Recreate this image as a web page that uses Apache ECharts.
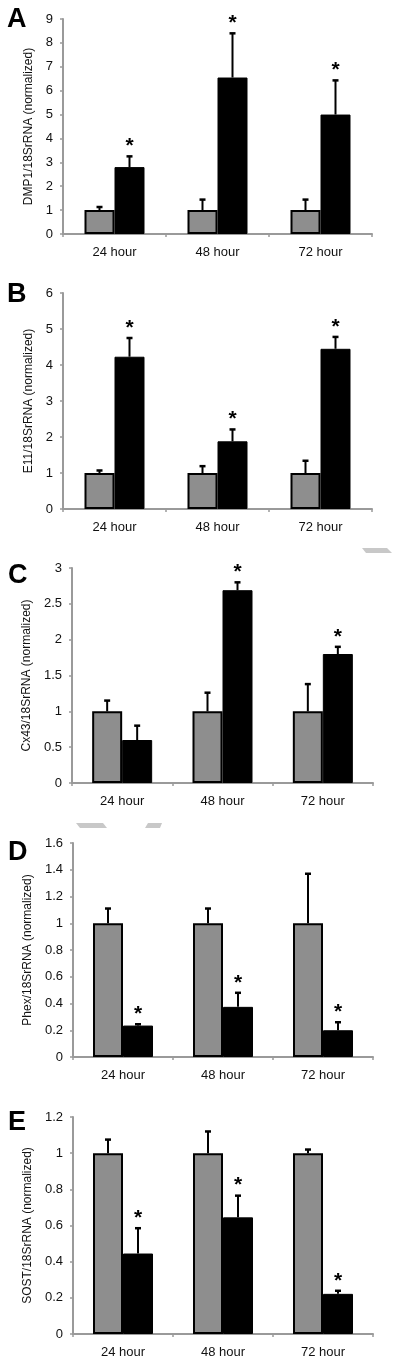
<!DOCTYPE html>
<html><head><meta charset="utf-8">
<script src="https://cdn.jsdelivr.net/npm/echarts@6/dist/echarts.min.js"></script>
<style>html,body{margin:0;padding:0;background:#fff}#c{width:400px;height:1363px}</style>
</head><body><div id="c"></div>
<script>
// ---------- data ----------
const categories = ['24 hour', '48 hour', '72 hour'];
const panelLetters = ['A', 'B', 'C', 'D', 'E'];
const yNames = [
  'DMP1/18SrRNA (normalized)',
  'E11/18SrRNA (normalized)',
  'Cx43/18SrRNA (normalized)',
  'Phex/18SrRNA (normalized)',
  'SOST/18SrRNA (normalized)'
];
const yMax = [9, 6, 3, 1.6, 1.2];
const yInterval = [1, 1, 0.5, 0.2, 0.2];

// A: DMP1
const dmp1Control = [1, 1, 1];
const dmp1ControlSD = [0.13, 0.44, 0.44];
const dmp1Treated = [2.8, 6.55, 5.0];
const dmp1TreatedSD = [0.45, 1.85, 1.43];
const dmp1Star = [1, 1, 1];
// B: E11
const e11Control = [1, 1, 1];
const e11ControlSD = [0.07, 0.19, 0.34];
const e11Treated = [4.23, 1.88, 4.45];
const e11TreatedSD = [0.52, 0.33, 0.33];
const e11Star = [1, 1, 1];
// C: Cx43
const cx43Control = [1, 1, 1];
const cx43ControlSD = [0.15, 0.26, 0.38];
const cx43Treated = [0.6, 2.69, 1.8];
const cx43TreatedSD = [0.2, 0.11, 0.1];
const cx43Star = [0, 1, 1];
// D: Phex
const phexControl = [1, 1, 1];
const phexControlSD = [0.11, 0.11, 0.37];
const phexTreated = [0.235, 0.375, 0.2];
const phexTreatedSD = [0.01, 0.105, 0.06];
const phexStar = [1, 1, 1];
// E: SOST
const sostControl = [1, 1, 1];
const sostControlSD = [0.075, 0.12, 0.02];
const sostTreated = [0.445, 0.645, 0.222];
const sostTreatedSD = [0.14, 0.12, 0.017];
const sostStar = [1, 1, 1];

const panels = [
  [dmp1Control, dmp1ControlSD, dmp1Treated, dmp1TreatedSD, dmp1Star],
  [e11Control, e11ControlSD, e11Treated, e11TreatedSD, e11Star],
  [cx43Control, cx43ControlSD, cx43Treated, cx43TreatedSD, cx43Star],
  [phexControl, phexControlSD, phexTreated, phexTreatedSD, phexStar],
  [sostControl, sostControlSD, sostTreated, sostTreatedSD, sostStar]
];

// ---------- layout / style ----------
const grids = [
  {left: 63, top: 19, width: 309, height: 215},
  {left: 63, top: 293, width: 309, height: 216},
  {left: 72, top: 568, width: 301, height: 215},
  {left: 73, top: 843, width: 300, height: 214},
  {left: 73, top: 1117, width: 300, height: 217}
];
const nameGaps = [26, 27, 30, 31, 31];
const letterPos = [[7, 19], [7, 294], [8, 575], [8, 852], [8, 1122]];
const FONT = '"Liberation Sans", Arial, sans-serif';
const GRAY = '#8e8e8e';
const AXIS = '#9a9a9a';
const BAR_W = 30;
const HALF = BAR_W / 2;

function renderErr(params, api) {
  const cat = api.value(0), mean = api.value(1), sd = api.value(2), side = api.value(3), star = api.value(4);
  const base = api.coord([cat, mean]);
  const top = api.coord([cat, mean + sd]);
  const x = base[0] + (side === 0 ? -HALF : HALF);
  const children = [
    {type: 'line', shape: {x1: x, y1: base[1], x2: x, y2: top[1]}, style: {stroke: '#000', lineWidth: 2}},
    {type: 'line', shape: {x1: x - 3, y1: top[1], x2: x + 3, y2: top[1]}, style: {stroke: '#000', lineWidth: 2.5}}
  ];
  if (star) {
    children.push({type: 'text', x: x, y: top[1] - 10,
      style: {text: '*', font: 'bold 21px ' + FONT, textAlign: 'center', textVerticalAlign: 'middle', fill: '#000'}});
  }
  return {type: 'group', children: children};
}

const option = {
  animation: false,
  backgroundColor: '#fff',
  grid: grids.map(g => Object.assign({containLabel: false}, g)),
  xAxis: grids.map((g, i) => ({
    type: 'category', gridIndex: i, data: categories,
    axisLine: {lineStyle: {color: AXIS, width: 2}},
    axisTick: {show: true, alignWithLabel: false, length: 3, lineStyle: {color: AXIS, width: 1.5}},
    axisLabel: {color: '#111', fontSize: 13, fontFamily: FONT, margin: 12}
  })),
  yAxis: grids.map((g, i) => ({
    type: 'value', gridIndex: i, min: 0, max: yMax[i], interval: yInterval[i],
    name: yNames[i], nameLocation: 'middle', nameGap: nameGaps[i], nameRotate: 90,
    nameTextStyle: {color: '#111', fontSize: 12, fontFamily: FONT},
    axisLine: {show: true, lineStyle: {color: AXIS, width: 2}},
    axisTick: {show: true, length: 3, lineStyle: {color: AXIS, width: 1.5}},
    splitLine: {show: false},
    axisLabel: {color: '#111', fontSize: 13, fontFamily: FONT, margin: 10}
  })),
  series: [],
  graphic: []
};

panels.forEach((p, i) => {
  const [ctrl, ctrlSD, trt, trtSD, star] = p;
  option.series.push({
    type: 'bar', xAxisIndex: i, yAxisIndex: i, data: ctrl, barWidth: BAR_W, barGap: '0%',
    itemStyle: {color: GRAY, borderColor: '#000', borderWidth: 2}
  });
  option.series.push({
    type: 'bar', xAxisIndex: i, yAxisIndex: i, data: trt, barWidth: BAR_W, barGap: '0%',
    itemStyle: {color: '#000', borderColor: '#000', borderWidth: 1}
  });
  const errData = [];
  ctrl.forEach((v, k) => errData.push([k, v, ctrlSD[k], 0, 0]));
  trt.forEach((v, k) => errData.push([k, v, trtSD[k], 1, star[k]]));
  option.series.push({
    type: 'custom', xAxisIndex: i, yAxisIndex: i, data: errData, renderItem: renderErr,
    encode: {x: 0, y: 1}, z: 5, clip: false
  });
  option.graphic.push({
    type: 'text', left: letterPos[i][0], top: letterPos[i][1] - 13,
    style: {text: panelLetters[i], font: 'bold 27px ' + FONT, fill: '#000'}
  });
});

// light grey scan artefacts present in the source figure
option.graphic.push(
  {type: 'polygon', shape: {points: [[362, 548], [387, 548], [392, 553], [366, 553]]}, style: {fill: '#c8c8c8'}},
  {type: 'polygon', shape: {points: [[76, 823], [103, 823], [107, 828], [80, 828]]}, style: {fill: '#c8c8c8'}},
  {type: 'polygon', shape: {points: [[148, 823], [162, 823], [160, 828], [145, 828]]}, style: {fill: '#c8c8c8'}}
);

const chart = echarts.init(document.getElementById('c'), null, {renderer: 'canvas'});
chart.setOption(option);
</script>
</body></html>
